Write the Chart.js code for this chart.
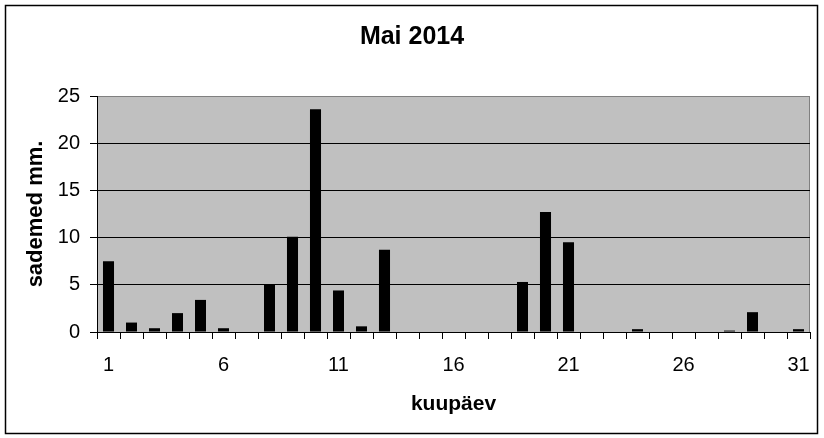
<!DOCTYPE html>
<html>
<head>
<meta charset="utf-8">
<script src="https://cdn.jsdelivr.net/npm/chart.js@4/dist/chart.umd.min.js"></script>
<style>
  html, body { margin: 0; padding: 0; background: #fff; }
  canvas { display: block; }
</style>
</head>
<body>
<canvas id="rainChart" width="824" height="438"></canvas>
<script>
const days = [];
for (let d = 1; d <= 31; d++) days.push(String(d));

const rain = [7.5, 1.0, 0.4, 2.0, 3.4, 0.4, 0, 5.0, 10.1, 23.6,
              4.4, 0.6, 8.7, 0, 0, 0, 0, 0, 5.3, 12.7,
              9.5, 0, 0, 0.3, 0, 0, 0, 0.15, 2.1, 0, 0.3];

const yTicks = [0, 5, 10, 15, 20, 25];

const fontFamily = '"Liberation Sans", Arial, sans-serif';

// grey plot area with grey frame, plus outer chart border
const framePlugin = {
    id: 'frame',
    afterLayout(chart) {
        // center the title on the whole canvas, not the padded box
        if (chart.titleBlock) {
            chart.titleBlock.left = 0;
            chart.titleBlock.right = chart.width;
            chart.titleBlock.width = chart.width;
        }
    },
    beforeDraw(chart) {
        const ctx = chart.ctx;
        const a = chart.chartArea;
        ctx.save();
        ctx.fillStyle = '#fff';
        ctx.fillRect(0, 0, chart.width, chart.height);
        ctx.strokeStyle = '#000';
        ctx.lineWidth = 1.5;
        ctx.strokeRect(5.5, 5.5, 812, 428);
        ctx.fillStyle = '#c0c0c0';
        ctx.fillRect(a.left, a.top, a.right - a.left, a.bottom - a.top);
        ctx.strokeStyle = '#808080';
        ctx.lineWidth = 1;
        ctx.strokeRect(a.left + 0.5, a.top + 0.5, a.right - a.left - 1, a.bottom - a.top);
        ctx.restore();
    }
};

const ctx = document.getElementById('rainChart').getContext('2d');
new Chart(ctx, {
    type: 'bar',
    data: {
        labels: days,
        datasets: [{
            data: rain,
            backgroundColor: '#000',
            borderWidth: 0,
            barPercentage: 0.48,
            categoryPercentage: 1
        }]
    },
    options: {
        responsive: false,
        animation: false,
        devicePixelRatio: 1,
        layout: { padding: { left: 0, right: 14, top: 0, bottom: 0 } },
        plugins: {
            legend: { display: false },
            tooltip: { enabled: false },
            title: {
                display: true,
                text: 'Mai 2014',
                color: '#000',
                font: { family: fontFamily, size: 25, weight: 'bold' },
                padding: { top: 22, bottom: 44 }
            }
        },
        scales: {
            x: {
                offset: true,
                afterFit: s => { s.height = 106; },
                grid: {
                    offset: true,
                    drawOnChartArea: false,
                    drawTicks: true,
                    tickLength: 7,
                    tickColor: '#000'
                },
                border: { color: '#000', width: 1 },
                ticks: {
                    autoSkip: false,
                    maxRotation: 0,
                    padding: 14,
                    color: '#000',
                    font: { family: fontFamily, size: 20 },
                    callback: (v, i) => (i % 5 === 0 ? days[i] : '')
                },
                title: {
                    display: true,
                    text: 'kuupäev',
                    color: '#000',
                    font: { family: fontFamily, size: 21, weight: 'bold' },
                    padding: { top: 0, bottom: 21 }
                }
            },
            y: {
                min: 0,
                max: 25,
                afterFit: s => { s.width = 97; },
                afterBuildTicks: s => { s.ticks = yTicks.map(v => ({ value: v })); },
                grid: {
                    color: c => (c.tick && c.tick.value === 25 ? '#808080' : '#000'),
                    lineWidth: 1,
                    drawTicks: true,
                    tickLength: 7,
                    tickColor: '#000'
                },
                border: { color: '#000', width: 1 },
                ticks: {
                    padding: 10,
                    color: '#000',
                    font: { family: fontFamily, size: 20 }
                },
                title: {
                    display: true,
                    text: 'sademed mm.',
                    color: '#000',
                    font: { family: fontFamily, size: 22, weight: 'bold' },
                    padding: { top: 23, bottom: 0 }
                }
            }
        }
    },
    plugins: [framePlugin]
});
</script>
</body>
</html>
